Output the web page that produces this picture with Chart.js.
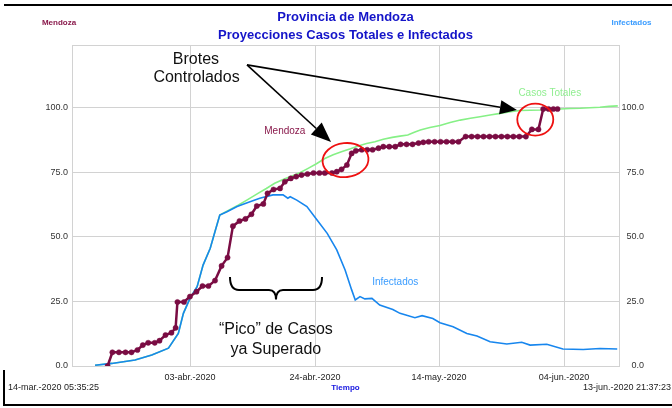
<!DOCTYPE html>
<html>
<head>
<meta charset="utf-8">
<script src="https://cdn.jsdelivr.net/npm/chart.js@4"></script>
<style>
  html, body { margin: 0; padding: 0; background: #fff; }
  #wrap { width: 672px; height: 408px; position: relative; }
</style>
</head>
<body>
<div id="wrap"><canvas id="chart"></canvas></div>
<script>
// days counted from 14-mar-2020 00:00
const xMin = 0.233;   // 14-mar.-2020 05:35:25
const xMax = 91.90;   // 13-jun.-2020 21:37:23
const xTickDays = [20.01, 40.96, 61.74, 82.69];
const xTickLabels = ["03-abr.-2020", "24-abr.-2020", "14-may.-2020", "04-jun.-2020"];
const yTicks = [0, 25, 50, 75, 100];
const yMax = 124.4;

// Mendoza (puntos)
const mzaDays = [6.2, 7.0, 8.1, 9.2, 10.2, 11.2, 12.1, 13.0, 14.1, 14.9, 15.9, 16.9, 17.6, 17.9, 19.0,
  20.0, 21.1, 22.1, 23.1, 24.2, 25.3, 26.3, 27.2, 28.3, 29.3, 30.3, 31.2, 32.3, 33.0, 34.0, 35.1,
  35.9, 36.9, 37.8, 38.7, 39.7, 40.7, 41.7, 42.6, 43.8, 44.6, 45.4, 46.3, 47.1, 47.8, 48.8, 49.7,
  50.6, 51.6, 52.4, 53.4, 54.4, 55.3, 56.3, 57.3, 58.3, 59.1, 60.0, 61.0, 62.0, 63.0, 64.0, 65.0,
  66.2, 67.2, 68.2, 69.2, 70.2, 71.2, 72.2, 73.2, 74.2, 75.2, 76.3, 77.3, 78.4, 79.2, 80.1, 80.9, 81.6];
const mzaValues = [0, 5.3, 5.3, 5.3, 5.3, 6.2, 8.1, 9.0, 9.0, 9.8, 12.0, 12.9, 14.8, 24.8, 24.8,
  26.9, 28.8, 31.0, 31.0, 33.1, 38.8, 42.0, 54.2, 56.2, 57.0, 58.8, 62.0, 62.8, 66.9, 68.4, 68.8,
  71.4, 72.7, 73.4, 74.0, 74.4, 74.8, 74.8, 74.8, 74.8, 75.3, 76.2, 77.9, 82.4, 83.4, 83.8, 83.8,
  83.8, 84.4, 85.0, 85.0, 85.0, 85.9, 85.9, 85.9, 86.4, 86.7, 86.9, 86.9, 86.9, 86.9, 86.9, 86.9,
  88.9, 88.9, 88.9, 88.9, 88.9, 88.9, 88.9, 88.9, 88.9, 88.9, 88.9, 91.7, 91.7, 99.6, 99.6, 99.6, 99.6];

// Infectados
const infDays = [4.1, 6.9, 10.8, 13.6, 16.4, 18.05, 18.9, 20.0, 21.2, 22.2, 23.4, 24.2, 25.0, 26.2,
  27.9, 29.6, 31.7, 33.9, 35.6, 36.4, 36.8, 37.9, 39.6, 41.3, 43.0, 44.6, 46.0, 47.1, 47.7, 48.5,
  49.3, 50.5, 51.8, 54.0, 55.2, 57.7, 58.9, 60.7, 61.9, 64.1, 66.4, 68.1, 70.3, 73.1, 75.6, 77.0,
  79.8, 82.5, 85.9, 88.7, 91.6];
const infValues = [0.3, 1.0, 2.3, 4.3, 6.9, 12.6, 20.4, 26.2, 30.7, 39.1, 45.6, 52.1, 58.5, 59.8,
  61.8, 63.3, 65.0, 66.3, 66.3, 65.0, 65.6, 64.3, 61.8, 56.6, 51.4, 45.0, 37.2, 29.5, 25.6, 26.9,
  26.0, 26.2, 23.6, 21.9, 20.4, 18.7, 19.5, 18.4, 16.8, 15.2, 12.6, 11.6, 9.4, 8.5, 9.2, 8.1,
  8.4, 6.6, 6.4, 6.8, 6.6];

// Casos Totales
const totDays = [4.1, 6.9, 10.8, 13.6, 16.4, 18.05, 18.9, 20.0, 21.2, 22.2, 23.4, 24.2, 25.0, 26.2,
  28.0, 29.6, 31.4, 32.8, 34.2, 35.7, 37.1, 38.5, 39.8, 41.2, 42.6, 44.0, 45.5, 46.9, 48.2, 49.6,
  51.0, 52.4, 53.9, 55.2, 56.5, 57.6, 58.6, 60.2, 61.9, 63.6, 65.3, 67.0, 68.6, 70.3, 72.0, 73.7,
  75.3, 77.0, 78.7, 80.3, 82.0, 83.7, 85.4, 87.0, 88.7, 90.2, 91.7];
const totValues = [0.3, 1.0, 2.3, 4.3, 6.9, 12.6, 20.4, 26.2, 30.7, 39.1, 45.6, 52.1, 58.5, 60.0,
  62.2, 64.4, 66.9, 68.8, 70.8, 72.4, 73.6, 75.0, 76.6, 78.4, 80.4, 81.9, 83.1, 84.2, 85.3, 86.2,
  86.9, 87.9, 88.6, 89.1, 89.5, 90.6, 91.5, 92.4, 93.2, 94.4, 95.3, 96.0, 96.6, 97.3, 97.9, 98.5,
  99.0, 99.1, 99.2, 99.4, 99.6, 99.8, 99.9, 100.1, 100.3, 100.6, 100.8];

const FONT = "'Liberation Sans', Arial, Helvetica, sans-serif";
const gridColor = "#d2d2d2";
const maroon = "#7a0c43";
const blue = "#1786ee";
const green = "#86f086";

function pts(days, vals) {
  return days.map((d, i) => ({ x: d, y: vals[i] }));
}

Chart.defaults.font.family = FONT;
Chart.defaults.color = "#333";

function text(ctx, str, x, y, font, color, align) {
  ctx.font = font;
  ctx.fillStyle = color;
  ctx.textAlign = align || "center";
  ctx.textBaseline = "middle";
  ctx.fillText(str, x, y);
}

function arrow(ctx, x0, y0, x1, y1, len, half) {
  const a = Math.atan2(y1 - y0, x1 - x0);
  const bx = x1 - len * Math.cos(a), by = y1 - len * Math.sin(a);
  ctx.beginPath();
  ctx.moveTo(x0, y0);
  ctx.lineTo(bx, by);
  ctx.stroke();
  ctx.beginPath();
  ctx.moveTo(x1, y1);
  ctx.lineTo(bx + half * Math.sin(a), by - half * Math.cos(a));
  ctx.lineTo(bx - half * Math.sin(a), by + half * Math.cos(a));
  ctx.closePath();
  ctx.fill();
}

const framePlugin = {
  id: "frame",
  beforeDatasetsDraw(chart) {
    const { ctx, chartArea: a } = chart;
    ctx.save();
    ctx.strokeStyle = gridColor;
    ctx.lineWidth = 1;
    ctx.strokeRect(a.left + 0.5, a.top + 0.5, a.right - a.left, a.bottom - a.top);
    ctx.restore();
  },
  afterDraw(chart) {
    const { ctx, chartArea: a, scales } = chart;
    const X = v => scales.x.getPixelForValue(v);
    const Y = v => scales.y.getPixelForValue(v);
    const cx = (a.left + a.right) / 2;
    ctx.save();

    // outer frame pieces
    ctx.strokeStyle = "#000";
    ctx.lineWidth = 2;
    ctx.beginPath();
    ctx.moveTo(4, 5); ctx.lineTo(672, 5);
    ctx.moveTo(4, 370); ctx.lineTo(4, 405); ctx.lineTo(672, 405);
    ctx.stroke();

    // titles and axis names
    text(ctx, "Provincia de Mendoza", cx, 17.5, "bold 13px " + FONT, "#1414c8");
    text(ctx, "Proyecciones Casos Totales e Infectados", cx, 35.5, "bold 13px " + FONT, "#1414c8");
    text(ctx, "Mendoza", 59, 23, "bold 8px " + FONT, "#8a1a4c");
    text(ctx, "Infectados", 631.5, 23, "bold 8px " + FONT, "#3a9cff");
    text(ctx, "Tiempo", cx, 388, "bold 8px " + FONT, "#1414e0");
    text(ctx, "14-mar.-2020 05:35:25", 8, 388, "9px " + FONT, "#222", "left");
    text(ctx, "13-jun.-2020 21:37:23", 671, 388, "9px " + FONT, "#222", "right");

    // series labels
    text(ctx, "Mendoza", X(35.9), Y(90.9), "10px " + FONT, "#8a1a4c");
    text(ctx, "Casos Totales", X(80.3), Y(105.8), "10px " + FONT, "#90ee90");
    text(ctx, "Infectados", X(54.4), Y(32.6), "10px " + FONT, "#3a9cff");

    // notes
    text(ctx, "Brotes", X(21.0), Y(118.6), "16px " + FONT, "#111");
    text(ctx, "Controlados", X(21.1), Y(111.6), "16px " + FONT, "#111");
    text(ctx, "\u201cPico\u201d de Casos", X(34.4), Y(14.0), "16px " + FONT, "#111");
    text(ctx, "ya Superado", X(34.4), Y(6.2), "16px " + FONT, "#111");

    ctx.strokeStyle = "#000";
    ctx.fillStyle = "#000";
    ctx.lineWidth = 1.6;
    arrow(ctx, X(29.56), Y(116.7), X(43.64), Y(86.8), 20, 8);
    arrow(ctx, X(29.56), Y(116.7), X(74.8), Y(99.2), 17, 7);

    // brace
    const bx0 = X(26.71), bx1 = X(42.13), bxc = X(34.42);
    const bt = Y(34.5), bm = Y(29.5), bp = Y(25.8);
    ctx.lineWidth = 2;
    ctx.beginPath();
    ctx.moveTo(bx0, bt);
    ctx.quadraticCurveTo(bx0, bm, bx0 + 9, bm);
    ctx.lineTo(bxc - 7, bm);
    ctx.quadraticCurveTo(bxc, bm, bxc, bp);
    ctx.quadraticCurveTo(bxc, bm, bxc + 7, bm);
    ctx.lineTo(bx1 - 9, bm);
    ctx.quadraticCurveTo(bx1, bm, bx1, bt);
    ctx.stroke();

    // red circles
    ctx.strokeStyle = "#ee1111";
    ctx.lineWidth = 1.8;
    ctx.beginPath();
    ctx.ellipse(X(46.07), Y(79.8), 23, 17, -0.1, 0, Math.PI * 2);
    ctx.stroke();
    ctx.beginPath();
    ctx.ellipse(X(77.87), Y(95.5), 18, 16, 0, 0, Math.PI * 2);
    ctx.stroke();

    ctx.restore();
  }
};

const yTickOpts = {
  padding: 4,
  color: "#333",
  font: { size: 9 },
  callback: v => v.toFixed(1)
};

new Chart(document.getElementById("chart"), {
  type: "line",
  data: {
    datasets: [
      {
        label: "Mendoza",
        data: pts(mzaDays, mzaValues),
        borderColor: maroon,
        backgroundColor: maroon,
        borderWidth: 2.5,
        pointRadius: 2.6,
        pointBorderWidth: 0.5,
        pointBackgroundColor: maroon,
        tension: 0
      },
      {
        label: "Infectados",
        data: pts(infDays, infValues),
        borderColor: blue,
        borderWidth: 1.6,
        pointRadius: 0,
        tension: 0
      },
      {
        label: "Casos Totales",
        data: pts(totDays, totValues),
        borderColor: green,
        borderWidth: 1.6,
        pointRadius: 0,
        tension: 0
      }
    ]
  },
  options: {
    responsive: true,
    maintainAspectRatio: false,
    animation: false,
    layout: { padding: { left: 0, top: 45, right: 28, bottom: 0 } },
    plugins: {
      legend: { display: false },
      tooltip: { enabled: false }
    },
    scales: {
      x: {
        type: "linear",
        min: xMin,
        max: xMax,
        afterBuildTicks: s => { s.ticks = xTickDays.map(v => ({ value: v })); },
        afterFit: s => { s.height = 42; },
        grid: { color: gridColor, drawTicks: false },
        border: { color: gridColor },
        ticks: {
          padding: 6,
          color: "#222",
          font: { size: 9 },
          maxRotation: 0,
          autoSkip: false,
          callback: (v, i) => xTickLabels[i]
        }
      },
      y: {
        position: "left",
        min: 0,
        max: yMax,
        afterBuildTicks: s => { s.ticks = yTicks.map(v => ({ value: v })); },
        afterFit: s => { s.width = 72; },
        grid: { color: gridColor, drawTicks: false },
        border: { color: gridColor },
        ticks: yTickOpts
      },
      y2: {
        position: "right",
        display: true,
        min: 0,
        max: yMax,
        afterBuildTicks: s => { s.ticks = yTicks.map(v => ({ value: v })); },
        afterFit: s => { s.width = 25; },
        grid: { display: false, drawTicks: false },
        border: { color: gridColor },
        ticks: Object.assign({}, yTickOpts, { padding: 3, crossAlign: "far" })
      }
    }
  },
  plugins: [framePlugin]
});
</script>
</body>
</html>
